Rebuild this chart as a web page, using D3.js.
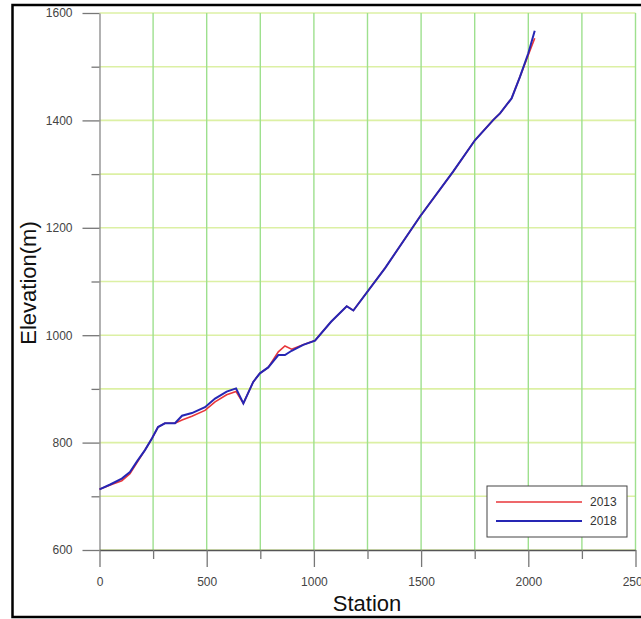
<!DOCTYPE html>
<html>
<head>
<meta charset="utf-8">
<script src="https://cdn.jsdelivr.net/npm/d3@7"></script>
<style>
  body { margin: 0; background: #fff; }
  svg { display: block; font-family: "Liberation Sans", Arial, sans-serif; }
</style>
</head>
<body>
<div id="chart"></div>
<script>
const width = 641;
const height = 619;

// station (m) along the profile, shared by both surveys
const stations = [0, 50, 104, 142, 175, 212, 245, 273, 305, 352, 385, 431, 492, 539, 593, 637, 671, 717, 748, 787, 834, 865, 896, 950, 1005, 1080, 1153, 1184, 1332, 1495, 1650, 1751, 1837, 1868, 1922, 1961, 2000, 2030];
const elev2013 = [713, 721, 729, 742, 763, 786, 808, 829, 836, 836, 842, 849, 860, 876, 889, 895, 873, 913, 929, 940, 969, 980, 974, 982, 990, 1025, 1054, 1046, 1125, 1221, 1305, 1363, 1401, 1413, 1441, 1481, 1522, 1553];
const elev2018 = [713, 722, 733, 745, 765, 786, 808, 829, 836, 836, 850, 855, 866, 882, 895, 901, 873, 913, 929, 940, 963, 963, 971, 982, 990, 1025, 1054, 1046, 1125, 1221, 1305, 1363, 1401, 1413, 1441, 1481, 1525, 1567];

const seriesNames = ["2013", "2018"];
const seriesColors = ["#e8363a", "#2626b4"];

const xMajor = [0, 500, 1000, 1500, 2000, 2500];
const xMinor = [250, 750, 1250, 1750, 2250];
const yMajor = [600, 800, 1000, 1200, 1400, 1600];
const yMinor = [700, 900, 1100, 1300, 1500];

const svg = d3.select("#chart").append("svg")
  .attr("width", width).attr("height", height);

// scales: 0..2500 -> 99.5..635.5, 600..1600 -> 550..13
const x = d3.scaleLinear().domain([0, 2500]).range([99.5, 635.5]);
const y = d3.scaleLinear().domain([600, 1600]).range([550, 13]);
const fmt = d3.format("d");

// grid
const grid = svg.append("g");
grid.selectAll(".hgrid")
  .data(d3.range(600, 1601, 100))
  .join("line")
  .attr("x1", x(0)).attr("x2", x(2500))
  .attr("y1", d => y(d)).attr("y2", d => y(d))
  .attr("stroke", "#dcf0a4").attr("stroke-width", 1.6);
grid.selectAll(".vgrid")
  .data(d3.range(250, 2501, 250))
  .join("line")
  .attr("x1", d => x(d)).attr("x2", d => x(d))
  .attr("y1", y(600)).attr("y2", y(1600))
  .attr("stroke", "#9ee08e").attr("stroke-width", 1.4);

// y axis
const yAx = svg.append("g").attr("transform", `translate(${x(0)},0)`);
yAx.call(d3.axisLeft(y).tickValues(yMajor).tickSize(17).tickSizeOuter(0).tickPadding(10).tickFormat(fmt));
svg.append("g").attr("transform", `translate(${x(0)},0)`)
  .call(d3.axisLeft(y).tickValues(yMinor).tickSize(8).tickFormat(""))
  .call(g => g.select(".domain").remove());

// x axis
const xAx = svg.append("g").attr("transform", `translate(0,${y(600)})`);
xAx.call(d3.axisBottom(x).tickValues(xMajor).tickSize(17).tickSizeOuter(0).tickPadding(10).tickFormat(fmt));
svg.append("g").attr("transform", `translate(0,${y(600)})`)
  .call(d3.axisBottom(x).tickValues(xMinor).tickSize(9).tickFormat(""))
  .call(g => g.select(".domain").remove());

svg.selectAll(".tick line").attr("stroke", "#777").attr("stroke-width", 1.3);
yAx.select(".domain").attr("stroke", "#888").attr("stroke-width", 1.3);
xAx.select(".domain").attr("stroke", "#555").attr("stroke-width", 1.5);
svg.selectAll(".tick text").attr("fill", "#444").style("font-size", "12px")
  .style("font-family", "'Liberation Sans', Arial, sans-serif");

// lines
const line = d3.line()
  .x((d, i) => x(stations[i]))
  .y(d => y(d));

svg.append("path")
  .datum(elev2013)
  .attr("fill", "none")
  .attr("stroke", seriesColors[0])
  .attr("stroke-width", 1.6)
  .attr("d", line);

svg.append("path")
  .datum(elev2018)
  .attr("fill", "none")
  .attr("stroke", seriesColors[1])
  .attr("stroke-width", 2)
  .attr("d", line);

// axis titles
svg.append("text")
  .attr("transform", `translate(36,283) rotate(-90)`)
  .attr("text-anchor", "middle")
  .attr("fill", "#111")
  .style("font-size", "22px")
  .text("Elevation(m)");

svg.append("text")
  .attr("x", 367).attr("y", 611)
  .attr("text-anchor", "middle")
  .attr("fill", "#111")
  .style("font-size", "22px")
  .text("Station");

// legend
const legend = svg.append("g");
legend.append("rect")
  .attr("x", 487).attr("y", 486).attr("width", 140).attr("height", 51)
  .attr("fill", "#fff").attr("stroke", "#444").attr("stroke-width", 1);
seriesNames.forEach((name, i) => {
  const ly = 502 + i * 19;
  legend.append("line")
    .attr("x1", 496).attr("x2", 582).attr("y1", ly).attr("y2", ly)
    .attr("stroke", seriesColors[i]).attr("stroke-width", i ? 2.2 : 1.6);
  legend.append("text")
    .attr("x", 590).attr("y", ly + 4)
    .attr("fill", "#333")
    .style("font-size", "12px")
    .text(name);
});

// frame
svg.append("rect")
  .attr("x", 12.5).attr("y", 5).attr("width", 640).attr("height", 612)
  .attr("fill", "none").attr("stroke", "#000").attr("stroke-width", 2.5);
</script>
</body>
</html>
